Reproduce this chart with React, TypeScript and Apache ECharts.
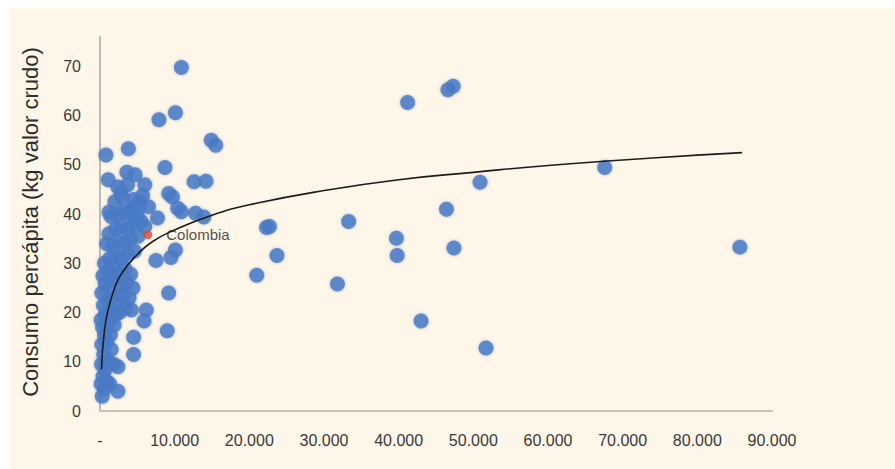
import React, { useEffect, useRef } from 'react';
import * as echarts from 'echarts';

// Ingreso per cápita (eje X) y consumo per cápita en kg (eje Y)
const incomePerCapita = [
  300, 600, 2400, 150, 900, 400, 1300, 700, 200, 1100, 1800, 500, 1500, 250, 900, 600, 1400, 350,
  1100, 150, 1900, 700, 1400, 450, 1000, 1800, 250, 1300, 700, 2100, 400, 1100, 1700, 600, 2400,
  2600, 3400, 4200, 2300, 3100, 3900, 2000, 2800, 3600, 4400, 1600, 2500, 3300, 4100, 1300, 2100,
  2900, 3700, 4600, 1700, 2500, 3300, 4100, 5100, 1200, 2100, 2900, 3700, 4500, 5500, 1500, 2500,
  3300, 4200, 5000, 6000, 900, 800, 1100, 3800, 3600, 4700, 6000, 3000, 5700, 2400, 4500, 3700,
  2000, 5300, 6500, 1200, 3800, 5100, 2800,
  7900, 10100, 10900, 8700, 9200, 9700, 10400, 10900, 7700, 12800, 13900, 14900, 15500, 12600,
  14200, 10100, 9500, 7500, 9200, 9000, 6200, 5900, 4500, 4500,
  22300, 22700, 33300, 39700, 39800, 47400, 85700, 21000, 23700, 31800, 43000, 51700, 41200,
  46600, 47300, 67600, 50900, 46400,
];
const consumptionPerCapita = [
  3, 4.5, 4, 5.5, 6, 7, 5.5, 8.5, 9.5, 10, 9.5, 11.5, 12.5, 13.5, 14, 15.5, 15.5, 17,
  18, 18.5, 17.5, 19.5, 20.5, 21.5, 22.5, 23, 24, 25, 26, 26.5, 27.5, 28.5, 29.5, 30, 9,
  20, 21, 20.5, 22.5, 23.5, 23, 19.5, 25.5, 26, 25, 27, 28, 29, 27.8, 31, 31.5,
  31, 32, 32.5, 33.5, 34.5, 34, 35, 35.5, 36, 37, 37.5, 37, 38, 38.5, 39.5, 40,
  40.5, 41, 39.5, 37.5, 34, 52, 47, 53.3, 48.5, 48, 46, 43.4, 43.8, 45.5, 43, 46,
  42.5, 42.5, 41.5, 40.4, 40.2, 41.4, 44.5,
  59.2, 60.6, 69.8, 49.5, 44.2, 43.5, 41.2, 40.5, 39.2, 40.2, 39.4, 55, 54, 46.6,
  46.7, 32.7, 31.2, 30.6, 24, 16.3, 20.5, 18.3, 15, 11.5,
  37.3, 37.5, 38.5, 35.1, 31.6, 33.1, 33.3, 27.6, 31.6, 25.8, 18.3, 12.8, 62.7,
  65.3, 66, 49.5, 46.5, 41,
];

const highlightName = 'Colombia';
const highlightIncome = 6400;
const highlightConsumption = 35.8;

// Línea de tendencia (logarítmica)
const trendIncome = [200, 500, 1000, 2000, 3000, 5000, 7000, 10000, 15000, 20000, 30000, 40000, 50000, 60000, 70000, 80000, 86000];
const trendConsumption = [8.5, 15, 20, 25.2, 28.2, 31.8, 34.4, 36.8, 39.8, 41.9, 44.8, 47, 48.5, 49.9, 51, 52, 52.5];

const yAxisTitle = 'Consumo percápita (kg valor crudo)';

const labelFont = '"Liberation Sans", Arial, sans-serif';

export default function App() {
  const ref = useRef<HTMLDivElement>(null);
  useEffect(() => {
    document.body.style.margin = '0';
    const chart = echarts.init(ref.current!, null, { renderer: 'svg' });
    const points = incomePerCapita.map((x, i) => [x, consumptionPerCapita[i]]);
    const trend = trendIncome.map((x, i) => [x, trendConsumption[i]]);
    chart.setOption({
      animation: false,
      backgroundColor: '#ffffff',
      graphic: [
        {
          type: 'rect',
          z: -100,
          shape: { x: 10, y: 8, width: 885, height: 461 },
          style: { fill: '#FEF6E8' },
          silent: true,
        },
        {
          type: 'text',
          x: 30,
          y: 222,
          rotation: Math.PI / 2,
          style: {
            text: yAxisTitle,
            fill: '#2e2e2e',
            font: '22px "Liberation Sans", Arial, sans-serif',
            textAlign: 'center',
            textVerticalAlign: 'middle',
          },
        },
      ],
      grid: { left: 100, right: 123, top: 37, bottom: 58, containLabel: false },
      xAxis: {
        type: 'value',
        min: 0,
        max: 90000,
        interval: 10000,
        axisLine: { show: true, lineStyle: { color: '#C9C2B8', width: 2 } },
        axisTick: { show: false },
        splitLine: { show: false },
        axisLabel: {
          margin: 21,
          color: '#3a3a3a',
          fontSize: 16,
          fontFamily: labelFont,
          formatter: (v: number) => (v === 0 ? '-' : `${v / 1000}.000`),
        },
      },
      yAxis: {
        type: 'value',
        min: 0,
        max: 76,
        interval: 10,
        axisLine: { show: true, lineStyle: { color: '#BDBAB5', width: 2 } },
        axisTick: { show: false },
        splitLine: { show: false },
        axisLabel: {
          margin: 19,
          color: '#3a3a3a',
          fontSize: 16,
          fontFamily: labelFont,
          formatter: (v: number) => (v % 10 === 0 ? String(v) : ''),
        },
      },
      series: [
        {
          type: 'scatter',
          data: points,
          symbol: 'circle',
          symbolSize: 15,
          itemStyle: { color: '#4879C4', shadowBlur: 3, shadowColor: 'rgba(72,121,196,0.6)' },
          z: 2,
        },
        {
          type: 'line',
          data: trend,
          smooth: true,
          showSymbol: false,
          lineStyle: { color: '#1c1c1c', width: 1.6 },
          z: 4,
        },
        {
          type: 'scatter',
          data: [[highlightIncome, highlightConsumption]],
          symbol: 'circle',
          symbolSize: 9,
          itemStyle: { color: '#E0473A' },
          label: {
            show: true,
            position: 'right',
            distance: 14,
            formatter: highlightName,
            color: '#222222',
            fontSize: 15,
            fontFamily: labelFont,
          },
          z: 5,
        },
      ],
    });
    return () => chart.dispose();
  }, []);
  return <div ref={ref} style={{ width: 895, height: 469 }} />;
}
